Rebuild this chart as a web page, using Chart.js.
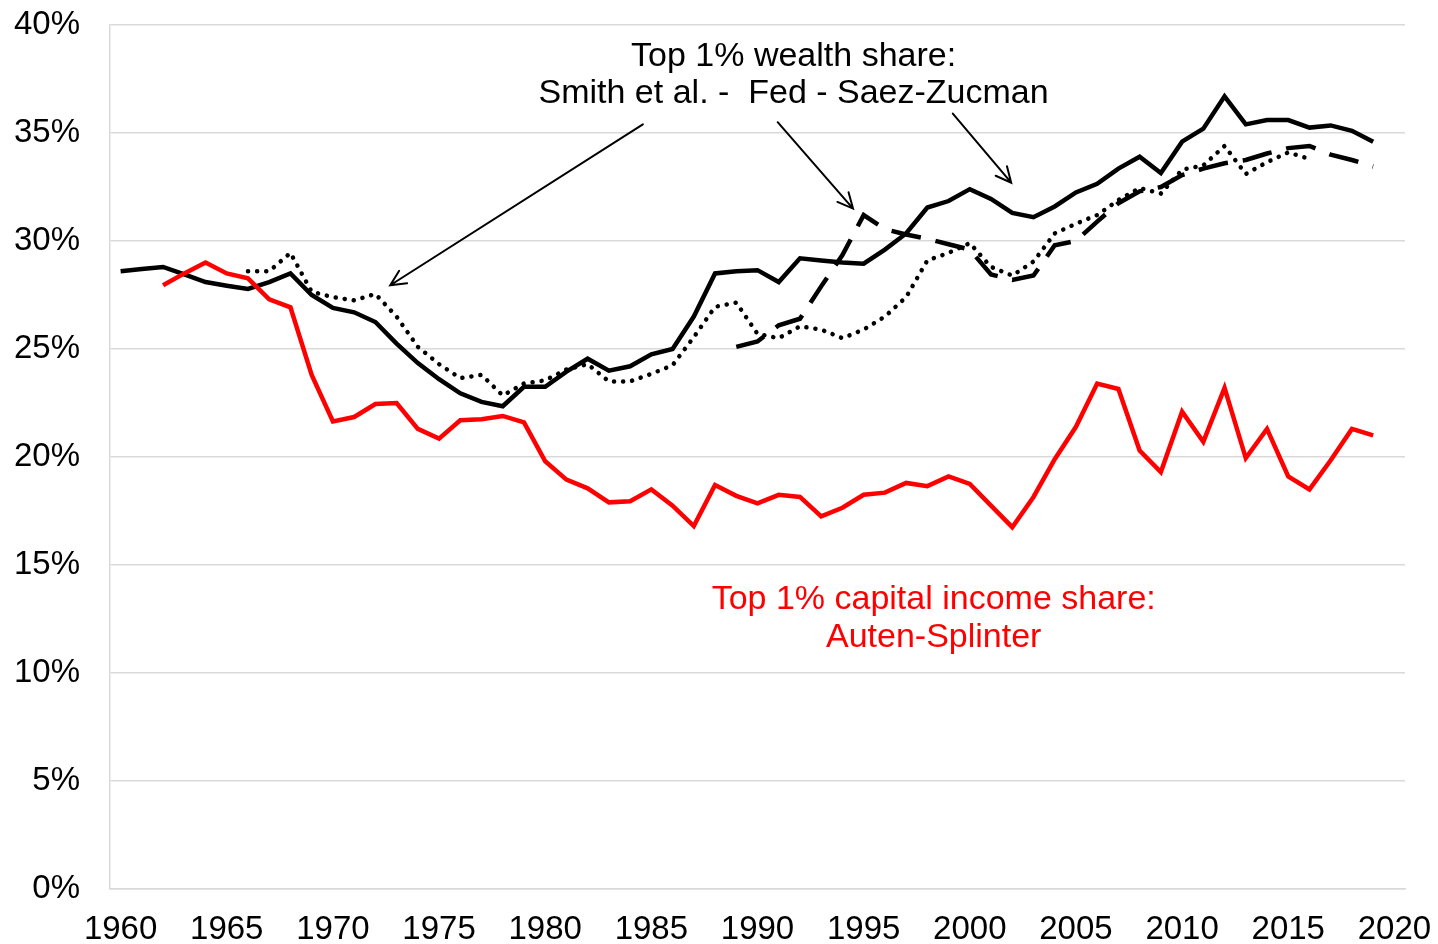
<!DOCTYPE html>
<html>
<head>
<meta charset="utf-8">
<script src="https://cdn.jsdelivr.net/npm/chart.js@4.4.1/dist/chart.umd.min.js"></script>
<style>
html,body{margin:0;padding:0;background:#fff;}
#wrap{width:1438px;height:944px;}
</style>
</head>
<body>
<div id="wrap"><canvas id="wealthChart" width="1438" height="944"></canvas></div>
<script>
// ====================================
// DATA
// ====================================

const years = [];
for(let y = 1960; y <= 2019; y++){ years.push(y); }

const xTicks = [1960,1965,1970,1975,1980,1985,1990,1995,2000,2005,2010,2015,2020];
const yTicks = [0,5,10,15,20,25,30,35,40];

// Saez-Zucman (solid black), 1960-2019
const saezZucman = [
    28.6, 28.7, 28.8, 28.45, 28.1, 27.93, 27.78, 28.1, 28.5, 27.5,
    26.9, 26.7, 26.25, 25.25, 24.35, 23.6, 22.95, 22.55, 22.35, 23.25,
    23.25, 23.95, 24.55, 24.0, 24.2, 24.75, 25.0, 26.5, 28.5, 28.6,
    28.65, 28.1, 29.2, 29.1, 29.0, 28.95, 29.6, 30.35, 31.55, 31.85,
    32.4, 31.95, 31.3, 31.1, 31.6, 32.25, 32.65, 33.35, 33.9, 33.15,
    34.6, 35.2, 36.7, 35.4, 35.6, 35.6, 35.25, 35.35, 35.1, 34.6
];

// Smith et al. (dotted black), 1966-2016
const smithEtAl = [
    null, null, null, null, null, null, 28.6, 28.6, 29.45, 27.65,
    27.4, 27.25, 27.55, 26.5, 25.1, 24.3, 23.65, 23.8, 22.85, 23.4,
    23.55, 24.05, 24.3, 23.5, 23.5, 23.85, 24.25, 25.55, 26.95, 27.15,
    25.7, 25.5, 26.05, 25.9, 25.5, 25.9, 26.5, 27.4, 29.1, 29.45,
    29.9, 28.8, 28.4, 29.05, 30.35, 30.8, 31.2, 31.9, 32.45, 32.2,
    33.3, 33.5, 34.4, 33.1, 33.65, 34.1, 33.8, null, null, null
];

// Fed SCF (long dash black), 1989-2019
const fedScf = [
    null, null, null, null, null, null, null, null, null, null,
    null, null, null, null, null, null, null, null, null, null,
    null, null, null, null, null, null, null, null, null, 25.1,
    25.35, 26.1, 26.4, 27.9, 29.35, 31.2, 30.55, 30.3, 30.1, 29.85,
    29.6, 28.45, 28.2, 28.4, 29.8, 30.0, 30.9, 31.75, 32.3, 32.5,
    33.05, 33.35, 33.6, 33.75, 34.05, 34.3, 34.4, 34.0, 33.75, 33.45
];

// Auten-Splinter capital income share (red), 1962-2019
const autenSplinter = [
    null, null, 27.95, 28.5, 29.0, 28.5, 28.27, 27.3, 26.93, 23.8,
    21.65, 21.85, 22.45, 22.5, 21.3, 20.85, 21.7, 21.75, 21.9, 21.6,
    19.8, 18.95, 18.55, 17.9, 17.95, 18.5, 17.75, 16.8, 18.7, 18.2,
    17.85, 18.25, 18.15, 17.25, 17.65, 18.25, 18.35, 18.8, 18.65, 19.1,
    18.75, 17.75, 16.75, 18.15, 19.9, 21.4, 23.4, 23.15, 20.3, 19.3,
    22.1, 20.7, 23.2, 19.95, 21.3, 19.1, 18.5, 19.85, 21.3, 21.0
];

// annotations in data coordinates: [year, percent]
const wealthLabel = ["Top 1% wealth share:", "Smith et al. -  Fed - Saez-Zucman"];
const wealthLabelPos = [1991.7, 38.55];
const incomeLabel = ["Top 1% capital income share:", "Auten-Splinter"];
const incomeLabelPos = [1998.3, 13.4];
const arrows = [
    [[1984.6, 35.4], [1972.7, 27.95]],
    [[1990.95, 35.5], [1994.5, 31.5]],
    [[1999.2, 35.9], [2001.95, 32.7]]
];

const FONT = "'Liberation Sans', Arial, sans-serif";

// ====================================
// ANNOTATION PLUGIN
// ====================================

const annotationPlugin = {
    id: "annotations",
    afterDatasetsDraw(chart){
        const ctx = chart.ctx;
        const xs = chart.scales.x;
        const ys = chart.scales.y;

        ctx.save();
        ctx.textAlign = "center";
        ctx.textBaseline = "middle";
        ctx.font = "34px " + FONT;

        ctx.fillStyle = "#000";
        const wx = xs.getPixelForValue(wealthLabelPos[0]);
        const wy = ys.getPixelForValue(wealthLabelPos[1]);
        wealthLabel.forEach((t,i)=>{ ctx.fillText(t, wx, wy + i*37); });

        ctx.fillStyle = "#ff0000";
        const ix = xs.getPixelForValue(incomeLabelPos[0]);
        const iy = ys.getPixelForValue(incomeLabelPos[1]);
        incomeLabel.forEach((t,i)=>{ ctx.fillText(t, ix, iy + i*38); });

        ctx.strokeStyle = "#000";
        ctx.lineWidth = 2;
        ctx.lineCap = "round";
        arrows.forEach(a=>{
            const x1 = xs.getPixelForValue(a[0][0]);
            const y1 = ys.getPixelForValue(a[0][1]);
            const x2 = xs.getPixelForValue(a[1][0]);
            const y2 = ys.getPixelForValue(a[1][1]);
            const ang = Math.atan2(y2-y1, x2-x1);
            const head = 17;
            ctx.beginPath();
            ctx.moveTo(x1,y1);
            ctx.lineTo(x2,y2);
            ctx.moveTo(x2 - head*Math.cos(ang-0.45), y2 - head*Math.sin(ang-0.45));
            ctx.lineTo(x2,y2);
            ctx.lineTo(x2 - head*Math.cos(ang+0.45), y2 - head*Math.sin(ang+0.45));
            ctx.stroke();
        });
        ctx.restore();
    }
};

// ====================================
// CHART
// ====================================

const ctxWealth = document.getElementById("wealthChart").getContext("2d");

const wealthChart = new Chart(ctxWealth, {
    type: "line",
    data: {
        labels: years,
        datasets: [
            {
                label: "Auten-Splinter",
                data: autenSplinter,
                borderColor: "#ff0000",
                borderWidth: 4.5
            },
            {
                label: "Smith et al.",
                data: smithEtAl,
                borderColor: "#000",
                borderWidth: 4.5,
                borderDash: [0.1, 9],
                borderCapStyle: "round"
            },
            {
                label: "Fed",
                data: fedScf,
                borderColor: "#000",
                borderWidth: 4.5,
                borderDash: [30, 15]
            },
            {
                label: "Saez-Zucman",
                data: saezZucman,
                borderColor: "#000",
                borderWidth: 4.5
            }
        ]
    },
    options: {
        responsive: false,
        animation: false,
        spanGaps: false,
        elements: {
            point: { radius: 0, hoverRadius: 0 },
            line: { tension: 0, borderJoinStyle: "miter" }
        },
        layout: {
            padding: { top: 25, right: 33, left: 0, bottom: 0 }
        },
        plugins: {
            legend: { display: false },
            tooltip: { enabled: false }
        },
        scales: {
            x: {
                type: "linear",
                min: 1959.5,
                max: 2020.5,
                afterBuildTicks: s => { s.ticks = xTicks.map(v=>({value:v})); },
                afterFit: s => {
                    s.height = 55;
                    s.paddingLeft = 0;
                    s.paddingRight = 0;
                },
                grid: { display: false },
                border: { display: true, color: "#d9d9d9", width: 1.5 },
                ticks: {
                    color: "#000",
                    font: { family: FONT, size: 33 },
                    padding: 13,
                    maxRotation: 0,
                    autoSkip: false,
                    callback: v => String(v)
                }
            },
            y: {
                min: 0,
                max: 40,
                afterBuildTicks: s => { s.ticks = yTicks.map(v=>({value:v})); },
                afterFit: s => {
                    s.width = 110;
                    s.paddingTop = 0;
                    s.paddingBottom = 0;
                },
                grid: { color: "#d9d9d9", lineWidth: 1.5, drawTicks: false },
                border: { display: true, color: "#d9d9d9", width: 1.5 },
                ticks: {
                    color: "#000",
                    font: { family: FONT, size: 33 },
                    padding: 30,
                    callback: v => v + "%"
                }
            }
        }
    },
    plugins: [annotationPlugin]
});
</script>
</body>
</html>
